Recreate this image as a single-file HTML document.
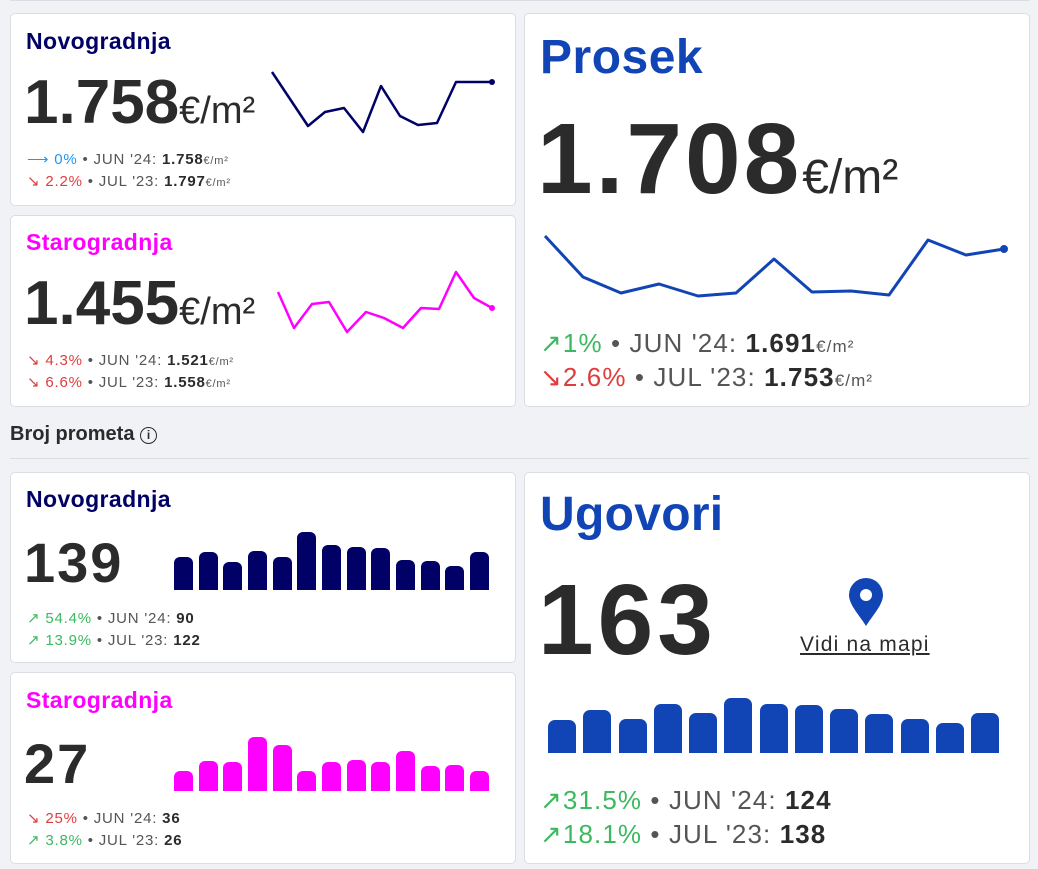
<!DOCTYPE html>
<html><head><meta charset="utf-8"><style>
body{margin:0;width:1038px;height:869px;background:#f1f2f6;font-family:"Liberation Sans",sans-serif;position:relative;overflow:hidden;color:#2b2b2b}
.c{position:absolute;background:#fff;border:1px solid #dcdde2;border-radius:5px;box-sizing:border-box}
.a{position:absolute;white-space:nowrap}
.t{font-weight:bold;font-size:23px;letter-spacing:0.4px}
.big{font-weight:bold;color:#2b2b2b}
.s{font-size:14px;color:#555}
.s b{color:#2b2b2b}
.g{color:#3cb95f}.r{color:#e03c3c}.bl{color:#2196f3}
.sm{font-size:15px;letter-spacing:0.8px}
.lg{font-size:26px;letter-spacing:1.1px}
svg{position:absolute;left:0;top:0}
</style></head><body>
<div style="position:absolute;left:10px;right:9px;top:0;height:1px;background:#dcdde2"></div>
<div class="c" style="left:10px;top:13px;width:506px;height:193px"></div>
<div class="c" style="left:10px;top:215px;width:506px;height:192px"></div>
<div class="c" style="left:524px;top:13px;width:506px;height:394px"></div>
<div class="c" style="left:10px;top:472px;width:506px;height:191px"></div>
<div class="c" style="left:10px;top:672px;width:506px;height:192px"></div>
<div class="c" style="left:524px;top:472px;width:506px;height:392px"></div>
<div style="position:absolute;left:10px;right:9px;top:458px;height:1px;background:#dcdde2"></div>
<div class="a" style="left:10px;top:423px;font-size:20px;font-weight:bold;color:#2b2b2b">Broj prometa <span style="display:inline-block;width:15px;height:15px;border:1.5px solid #2b2b2b;border-radius:50%;font-size:12px;line-height:15px;text-align:center;vertical-align:1px">i</span></div>

<div class="a t" style="left:26px;top:28px;color:#010066">Novogradnja</div>
<div class="a" style="left:24px;top:67px"><span class="big" style="font-size:62px">1.758</span><span style="font-size:38px">€/m²</span></div>
<div class="a s sm" style="left:27px;top:150px"><span class="bl">⟶ 0%</span> • JUN '24: <b>1.758</b><span style="font-size:11px">€/m²</span></div>
<div class="a s sm" style="left:27px;top:172px"><span class="r">↘ 2.2%</span> • JUL '23: <b>1.797</b><span style="font-size:11px">€/m²</span></div>

<div class="a t" style="left:26px;top:229px;color:#ff00ff">Starogradnja</div>
<div class="a" style="left:24px;top:268px"><span class="big" style="font-size:62px">1.455</span><span style="font-size:38px">€/m²</span></div>
<div class="a s sm" style="left:27px;top:351px"><span class="r">↘ 4.3%</span> • JUN '24: <b>1.521</b><span style="font-size:11px">€/m²</span></div>
<div class="a s sm" style="left:27px;top:373px"><span class="r">↘ 6.6%</span> • JUL '23: <b>1.558</b><span style="font-size:11px">€/m²</span></div>

<div class="a" style="left:540px;top:30px;font-size:48px;font-weight:bold;color:#1145b5;letter-spacing:0.5px">Prosek</div>
<div class="a" style="left:537px;top:102px"><span class="big" style="font-size:100px;letter-spacing:3px">1.708</span><span style="font-size:48px">€/m²</span></div>
<div class="a s lg" style="left:540px;top:328px"><span class="g">↗1%</span> • JUN '24: <b>1.691</b><span style="font-size:17px">€/m²</span></div>
<div class="a s lg" style="left:540px;top:362px"><span class="r">↘2.6%</span> • JUL '23: <b>1.753</b><span style="font-size:17px">€/m²</span></div>

<div class="a t" style="left:26px;top:486px;color:#010066">Novogradnja</div>
<div class="a big" style="left:24px;top:530px;font-size:56px;letter-spacing:2px">139</div>
<div class="a s sm" style="left:27px;top:609px"><span class="g">↗ 54.4%</span> • JUN '24: <b>90</b></div>
<div class="a s sm" style="left:27px;top:631px"><span class="g">↗ 13.9%</span> • JUL '23: <b>122</b></div>

<div class="a t" style="left:26px;top:687px;color:#ff00ff">Starogradnja</div>
<div class="a big" style="left:24px;top:731px;font-size:56px;letter-spacing:2px">27</div>
<div class="a s sm" style="left:27px;top:809px"><span class="r">↘ 25%</span> • JUN '24: <b>36</b></div>
<div class="a s sm" style="left:27px;top:831px"><span class="g">↗ 3.8%</span> • JUL '23: <b>26</b></div>

<div class="a" style="left:540px;top:487px;font-size:48px;font-weight:bold;color:#1145b5;letter-spacing:0.3px">Ugovori</div>
<div class="a big" style="left:538px;top:563px;font-size:100px;letter-spacing:4px">163</div>
<div class="a" style="left:800px;top:633px;font-size:21px;letter-spacing:1.2px;text-decoration:underline;color:#2b2b2b">Vidi na mapi</div>
<div class="a s lg" style="left:540px;top:785px"><span class="g">↗31.5%</span> • JUN '24: <b>124</b></div>
<div class="a s lg" style="left:540px;top:819px"><span class="g">↗18.1%</span> • JUL '23: <b>138</b></div>

<svg width="1038" height="869">
<polyline fill="none" stroke="#010066" stroke-width="2.5" stroke-linejoin="round" points="272,72 308,126 325,112 344,108 363,132 381,86 400,116 418,125 437,123 456,82 492,82"/>
<circle cx="492" cy="82" r="3" fill="#010066"/>
<polyline fill="none" stroke="#ff00ff" stroke-width="2.5" stroke-linejoin="round" points="278,292 294,328 312,304 329,302 347,332 366,312 384,318 403,328 421,308 439,309 456,272 474,298 492,308"/>
<circle cx="492" cy="308" r="3" fill="#ff00ff"/>
<polyline fill="none" stroke="#1145b5" stroke-width="3" stroke-linejoin="round" points="545,236 583,277 621,293 659,284 698,296 736,293 774,259 812,292 851,291 889,295 928,240 966,255 1004,249"/>
<circle cx="1004" cy="249" r="4" fill="#1145b5"/>
<g fill="#010066">
<path d="M174,590V563a6,6 0 0 1 6,-6h7a6,6 0 0 1 6,6V590Z"/>
<path d="M199,590V558a6,6 0 0 1 6,-6h7a6,6 0 0 1 6,6V590Z"/>
<path d="M223,590V568a6,6 0 0 1 6,-6h7a6,6 0 0 1 6,6V590Z"/>
<path d="M248,590V557a6,6 0 0 1 6,-6h7a6,6 0 0 1 6,6V590Z"/>
<path d="M273,590V563a6,6 0 0 1 6,-6h7a6,6 0 0 1 6,6V590Z"/>
<path d="M297,590V538a6,6 0 0 1 6,-6h7a6,6 0 0 1 6,6V590Z"/>
<path d="M322,590V551a6,6 0 0 1 6,-6h7a6,6 0 0 1 6,6V590Z"/>
<path d="M347,590V553a6,6 0 0 1 6,-6h7a6,6 0 0 1 6,6V590Z"/>
<path d="M371,590V554a6,6 0 0 1 6,-6h7a6,6 0 0 1 6,6V590Z"/>
<path d="M396,590V566a6,6 0 0 1 6,-6h7a6,6 0 0 1 6,6V590Z"/>
<path d="M421,590V567a6,6 0 0 1 6,-6h7a6,6 0 0 1 6,6V590Z"/>
<path d="M445,590V572a6,6 0 0 1 6,-6h7a6,6 0 0 1 6,6V590Z"/>
<path d="M470,590V558a6,6 0 0 1 6,-6h7a6,6 0 0 1 6,6V590Z"/>
</g>
<g fill="#ff00ff">
<path d="M174,791V777a6,6 0 0 1 6,-6h7a6,6 0 0 1 6,6V791Z"/>
<path d="M199,791V767a6,6 0 0 1 6,-6h7a6,6 0 0 1 6,6V791Z"/>
<path d="M223,791V768a6,6 0 0 1 6,-6h7a6,6 0 0 1 6,6V791Z"/>
<path d="M248,791V743a6,6 0 0 1 6,-6h7a6,6 0 0 1 6,6V791Z"/>
<path d="M273,791V751a6,6 0 0 1 6,-6h7a6,6 0 0 1 6,6V791Z"/>
<path d="M297,791V777a6,6 0 0 1 6,-6h7a6,6 0 0 1 6,6V791Z"/>
<path d="M322,791V768a6,6 0 0 1 6,-6h7a6,6 0 0 1 6,6V791Z"/>
<path d="M347,791V766a6,6 0 0 1 6,-6h7a6,6 0 0 1 6,6V791Z"/>
<path d="M371,791V768a6,6 0 0 1 6,-6h7a6,6 0 0 1 6,6V791Z"/>
<path d="M396,791V757a6,6 0 0 1 6,-6h7a6,6 0 0 1 6,6V791Z"/>
<path d="M421,791V772a6,6 0 0 1 6,-6h7a6,6 0 0 1 6,6V791Z"/>
<path d="M445,791V771a6,6 0 0 1 6,-6h7a6,6 0 0 1 6,6V791Z"/>
<path d="M470,791V777a6,6 0 0 1 6,-6h7a6,6 0 0 1 6,6V791Z"/>
</g>
<g fill="#1145b5">
<path d="M548,753V727a7,7 0 0 1 7,-7h14a7,7 0 0 1 7,7V753Z"/>
<path d="M583,753V717a7,7 0 0 1 7,-7h14a7,7 0 0 1 7,7V753Z"/>
<path d="M619,753V726a7,7 0 0 1 7,-7h14a7,7 0 0 1 7,7V753Z"/>
<path d="M654,753V711a7,7 0 0 1 7,-7h14a7,7 0 0 1 7,7V753Z"/>
<path d="M689,753V720a7,7 0 0 1 7,-7h14a7,7 0 0 1 7,7V753Z"/>
<path d="M724,753V705a7,7 0 0 1 7,-7h14a7,7 0 0 1 7,7V753Z"/>
<path d="M760,753V711a7,7 0 0 1 7,-7h14a7,7 0 0 1 7,7V753Z"/>
<path d="M795,753V712a7,7 0 0 1 7,-7h14a7,7 0 0 1 7,7V753Z"/>
<path d="M830,753V716a7,7 0 0 1 7,-7h14a7,7 0 0 1 7,7V753Z"/>
<path d="M865,753V721a7,7 0 0 1 7,-7h14a7,7 0 0 1 7,7V753Z"/>
<path d="M901,753V726a7,7 0 0 1 7,-7h14a7,7 0 0 1 7,7V753Z"/>
<path d="M936,753V730a7,7 0 0 1 7,-7h14a7,7 0 0 1 7,7V753Z"/>
<path d="M971,753V720a7,7 0 0 1 7,-7h14a7,7 0 0 1 7,7V753Z"/>
</g>
<path d="M866,626C860,616 849,605 849,595a17,17 0 0 1 34,0C883,605 872,616 866,626Z" fill="#1145b5"/>
<circle cx="866" cy="595" r="6" fill="#fff"/>
</svg>
</body></html>
